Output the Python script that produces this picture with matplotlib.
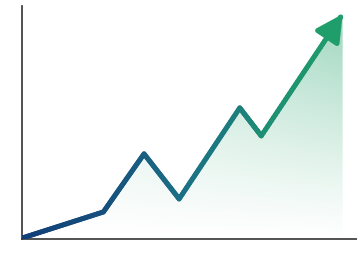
import numpy as np
import matplotlib
matplotlib.use("Agg")
import matplotlib.pyplot as plt
from matplotlib.collections import LineCollection
from matplotlib.colors import LinearSegmentedColormap, to_rgb
from matplotlib.patches import Polygon

# growth path (last point = arrow tip)
X = [0.0, 1.02, 1.53, 1.97, 2.73, 3.0, 4.02]
Y = [0.03, 0.87, 2.74, 1.29, 4.22, 3.32, 7.24]

NAVY, GREEN, SPINE = "#123f78", "#1f9d6b", "#333333"

fig = plt.figure(figsize=(3.57, 2.55), dpi=100)
ax = fig.add_axes([22 / 357, 15 / 255, 335 / 357, 233 / 255])
ax.set_xlim(0, 4.2)
ax.set_ylim(0, 7.5)

# gradient fill under the path, clipped by the polygon
gx, gy = np.meshgrid(np.linspace(0, 1, 200), np.linspace(0, 1, 200))
alpha = np.clip(0.5 * gy ** 1.1 * (0.35 + 0.65 * gx), 0, 1)
rgba = np.zeros(gx.shape + (4,))
rgba[..., :3] = to_rgb("#2fa874")
rgba[..., 3] = alpha
im = ax.imshow(rgba, extent=[0, 4.2, 0, 7.5], origin="lower", aspect="auto", zorder=1)
poly = Polygon(list(zip(X, Y)) + [(X[-1], 0), (X[0], 0)], closed=True,
               facecolor="none", edgecolor="none")
ax.add_patch(poly)
im.set_clip_path(poly)

# gradient stroke: subdivide each leg so the colour can shift smoothly
xs, ys = [], []
for i in range(len(X) - 1):
    t = np.linspace(0, 1, 40, endpoint=False)
    xs.append(X[i] + (X[i + 1] - X[i]) * t)
    ys.append(Y[i] + (Y[i + 1] - Y[i]) * t)
# stop the stroke a little short of the tip so the head covers it
dx, dy = X[-1] - X[-2], Y[-1] - Y[-2]
xs.append([X[-1] - 0.12 * dx])
ys.append([Y[-1] - 0.12 * dy])
xs, ys = np.concatenate(xs), np.concatenate(ys)
pts = np.column_stack([xs, ys]).reshape(-1, 1, 2)
segs = np.concatenate([pts[:-1], pts[1:]], axis=1)
cmap = LinearSegmentedColormap.from_list("g", [NAVY, "#1b6f86", GREEN])
lc = LineCollection(segs, cmap=cmap, linewidths=3.6, capstyle="round",
                    joinstyle="miter", zorder=3)
lc.set_array(np.linspace(0, 1, len(segs)))
ax.add_collection(lc)

ax.annotate("", xy=(X[-1], Y[-1]), xytext=(X[-1] - 0.2 * dx, Y[-1] - 0.2 * dy),
            arrowprops=dict(arrowstyle="-|>,head_length=0.8,head_width=0.42",
                            mutation_scale=20, color=GREEN, lw=3.6,
                            shrinkA=0, shrinkB=0), zorder=4)

for s in ("top", "right"):
    ax.spines[s].set_visible(False)
for s in ("left", "bottom"):
    ax.spines[s].set_color(SPINE)
    ax.spines[s].set_linewidth(1.2)
ax.set_xticks([])
ax.set_yticks([])

fig.savefig("out.png", dpi=100)
